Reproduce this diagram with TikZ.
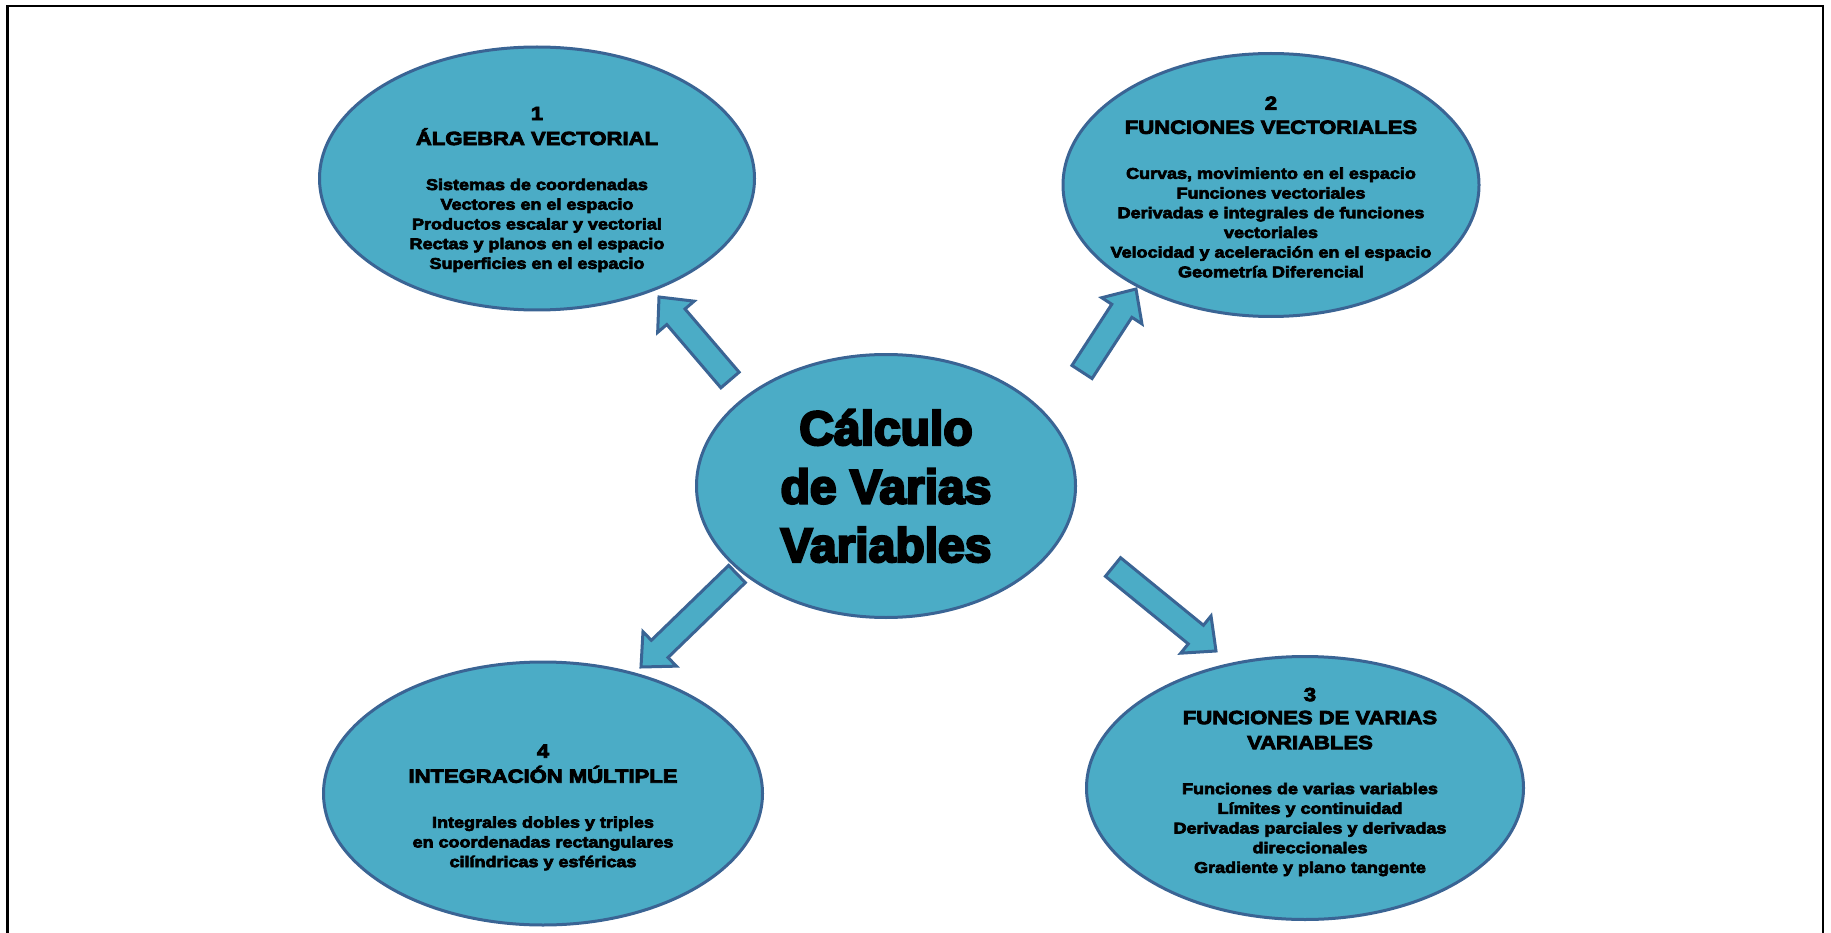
\documentclass[tikz,border=0pt]{standalone}
\usepackage{fontspec}
\usepackage{tikz}
\usetikzlibrary{shapes.geometric,calc}

\setmainfont{Liberation Sans}
\newfontfamily\titlefont[FakeBold=5]{Liberation Sans Bold}
\newfontfamily\topicfont[FakeStretch=1.16,FakeBold=4.5]{Liberation Sans Bold}
\newcommand\hd{\fontsize{19}{22}\selectfont}
\definecolor{aqua}{HTML}{4BACC6}
\definecolor{rim}{HTML}{3A6494}

% block arrow from tail #1 to tip #2
\newcommand\blockarrow[2]{%
  \coordinate (hb) at ($(#2)!26pt!(#1)$);
  \draw[blockarr] ($(#1)!12pt!90:(#2)$) -- ($(hb)!12pt!90:(#2)$)
    -- ($(hb)!24pt!90:(#2)$) -- (#2) -- ($(hb)!24pt!-90:(#2)$)
    -- ($(hb)!12pt!-90:(#2)$) -- ($(#1)!12pt!-90:(#2)$) -- cycle;}

\begin{document}
\begin{tikzpicture}[x=1pt, y=1pt,
  topic/.style = {ellipse, draw=rim, line width=3pt, fill=aqua,
    inner sep=0pt, minimum height=263},
  topictext/.style = {align=center,
    font=\topicfont\fontsize{15.5}{19.7}\selectfont},
  blockarr/.style = {draw=rim, line width=3pt, fill=aqua, line join=miter}]
  \useasboundingbox (0,0) rectangle (1831,-933);
  \draw[line width=2.5pt] (7.5,-945) -- (7.5,-6) -- (1823,-6) -- (1823,-945);

  \node[topic, minimum width=379, align=center,
    font=\titlefont\fontsize{48}{58.5}\selectfont] (cvv) at (886,-486)
    {Cálculo\\de Varias\\Variables};

  \node[topic, minimum width=435,
    label={[topictext, yshift=-11pt]center:{{\hd 1}\\[5.3pt]{\hd ÁLGEBRA VECTORIAL}\\[25.3pt]
      Sistemas de coordenadas\\Vectores en el espacio\\Productos escalar y vectorial\\
      Rectas y planos en el espacio\\Superficies en el espacio}}] (alg) at (537,-178.5) {};
  \node[topic, minimum width=416,
    label={[topictext, yshift=-2pt]center:{{\hd 2}\\[4.3pt]{\hd FUNCIONES VECTORIALES}\\[25.3pt]
      Curvas, movimiento en el espacio\\Funciones vectoriales\\
      Derivadas e integrales de funciones\\vectoriales\\
      Velocidad y aceleración en el espacio\\Geometría Diferencial}}] (fvec) at (1271,-185) {};
  \node[topic, minimum width=437,
    label={[topictext, xshift=5pt, yshift=6pt]center:{{\hd 3}\\[3.3pt]{\hd FUNCIONES DE VARIAS}\\[5.3pt]
      {\hd VARIABLES}\\[25.3pt]
      Funciones de varias variables\\Límites y continuidad\\
      Derivadas parciales y derivadas\\direccionales\\
      Gradiente y plano tangente}}] (fvar) at (1305,-788) {};
  \node[topic, minimum width=439,
    label={[topictext, yshift=-14pt]center:{{\hd 4}\\[5.3pt]{\hd INTEGRACIÓN MÚLTIPLE}\\[25.3pt]
      Integrales dobles y triples\\en coordenadas rectangulares\\
      cilíndricas y esféricas}}] (integ) at (543,-793.5) {};

  \coordinate (a1s) at (730,-380);  \coordinate (a1e) at (659,-297);
  \coordinate (a2s) at (1082,-372); \coordinate (a2e) at (1136,-289);
  \coordinate (a3s) at (1113,-567); \coordinate (a3e) at (1216,-651);
  \coordinate (a4s) at (737,-574);  \coordinate (a4e) at (641,-667);
  \blockarrow{a1s}{a1e}
  \blockarrow{a2s}{a2e}
  \blockarrow{a3s}{a3e}
  \blockarrow{a4s}{a4e}
\end{tikzpicture}
\end{document}
